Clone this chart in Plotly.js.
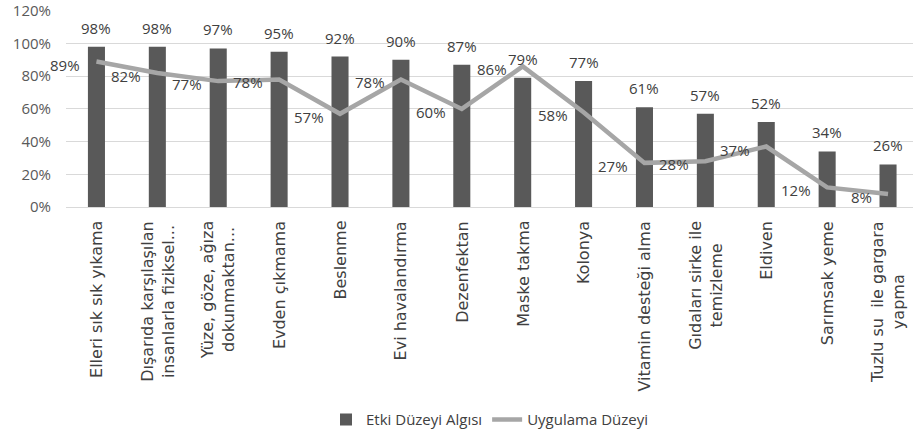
<!DOCTYPE html>
<html>
<head>
<meta charset="utf-8">
<script src="https://cdn.plot.ly/plotly-3.0.1.min.js"></script>
<style>html,body{margin:0;padding:0;background:#fff;}#chart{width:913px;height:443px;}</style>
</head>
<body>
<div id="chart"></div>
<script>
const categories = ["Elleri sık sık yıkama","Dışarıda karşılaşılan insanlarla fiziksel...","Yüze, göze, ağıza dokunmaktan...","Evden çıkmama","Beslenme","Evi havalandırma","Dezenfektan","Maske takma","Kolonya","Vitamin desteği alma","Gıdaları sirke ile temizleme","Eldiven","Sarımsak yeme","Tuzlu su  ile gargara yapma"];
const tickLabels = ["Elleri sık sık yıkama","Dışarıda karşılaşılan<br>insanlarla fiziksel...","Yüze, göze, ağıza<br>dokunmaktan...","Evden çıkmama","Beslenme","Evi havalandırma","Dezenfektan","Maske takma","Kolonya","Vitamin desteği alma","Gıdaları sirke ile<br>temizleme","Eldiven","Sarımsak yeme","Tuzlu su  ile gargara<br>yapma"];
const perception = [0.98,0.98,0.97,0.95,0.92,0.90,0.87,0.79,0.77,0.61,0.57,0.52,0.34,0.26];
const practice = [0.89,0.82,0.77,0.78,0.57,0.78,0.60,0.86,0.58,0.27,0.28,0.37,0.12,0.08];
const seriesNames = ["Etki Düzeyi Algısı","Uygulama Düzeyi"];

const FONT = "Open Sans, sans-serif";
const XFONT = "DejaVu Sans, sans-serif";
const pct = v => Math.round(v*100) + "%";

const traces = [
  {type:"bar", x:categories, y:perception, name:seriesNames[0],
   marker:{color:"#595959"}, width:0.28, hoverinfo:"skip"},
  {type:"scatter", mode:"lines", x:categories, y:practice, name:seriesNames[1],
   line:{color:"#a6a6a6", width:4.5}, hoverinfo:"skip"}
];

const annotations = [];
categories.forEach((c,i)=>{
  annotations.push({x:c, y:perception[i], xref:"x", yref:"y", text:pct(perception[i]),
    showarrow:false, yanchor:"bottom", xanchor:"center", yshift:7,
    font:{family:FONT, size:15, color:"#404040"}});
  annotations.push({x:c, y:practice[i], xref:"x", yref:"y", text:pct(practice[i]),
    showarrow:false, yanchor:"middle", xanchor:"right", xshift:-14, yshift:-3,
    font:{family:FONT, size:15, color:"#404040"}});
  annotations.push({x:c, y:0, xref:"x", yref:"paper", text:tickLabels[i],
    showarrow:false, textangle:-90, yanchor:"top", xanchor:"center", align:"center", yshift:-12,
    font:{family:XFONT, size:16, color:"#404040"}});
});

const layout = {
  width:913, height:443,
  margin:{l:66, r:0, t:10, b:236},
  paper_bgcolor:"#fff", plot_bgcolor:"#fff",
  font:{family:FONT, color:"#595959"},
  showlegend:true,
  legend:{orientation:"h", x:0.5, xanchor:"center", y:-1.08, yanchor:"middle",
    font:{family:FONT, size:15, color:"#404040"}, traceorder:"normal"},
  xaxis:{type:"category", range:[-0.5,13.41], showticklabels:false, showgrid:false,
    showline:true, linecolor:"#d9d9d9", linewidth:1, zeroline:false, fixedrange:true},
  yaxis:{range:[0,1.205], tickvals:[0,0.2,0.4,0.6,0.8,1.0,1.2], tickformat:".0%", gridcolor:"#d9d9d9", gridwidth:1,
    zeroline:false, showline:false, ticklabelstandoff:14, ticklabeloverflow:"allow",
    tickfont:{family:FONT, size:15, color:"#595959"}, fixedrange:true},
  annotations:annotations
};

Plotly.newPlot("chart", traces, layout, {displayModeBar:false, staticPlot:true});
</script>
</body>
</html>
